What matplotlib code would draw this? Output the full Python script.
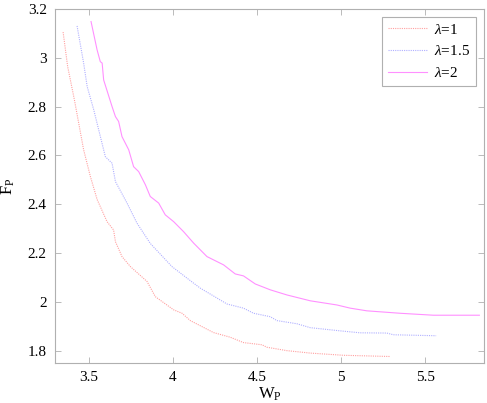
import numpy as np
import matplotlib
matplotlib.use("Agg")
from matplotlib import pyplot as plt

plt.rcParams['font.family'] = ['Liberation Serif', 'DejaVu Serif']
plt.rcParams['mathtext.fontset'] = 'custom'
plt.rcParams['mathtext.rm'] = 'Liberation Serif'
plt.rcParams['mathtext.it'] = 'Liberation Serif:italic'

# lambda = 1
w1 = [3.348, 3.375, 3.415, 3.470, 3.510, 3.550, 3.609, 3.648, 3.659, 3.698, 3.748,
      3.847, 3.896, 4.005, 4.055, 4.104, 4.242, 4.341, 4.420, 4.530, 4.559, 4.678,
      4.817, 5.014, 5.292]
f1 = [3.105, 2.964, 2.828, 2.623, 2.514, 2.420, 2.329, 2.295, 2.247, 2.186, 2.145,
      2.084, 2.022, 1.968, 1.954, 1.924, 1.875, 1.856, 1.834, 1.825, 1.815, 1.801,
      1.791, 1.782, 1.777]

# lambda = 1.5
w2 = [3.431, 3.470, 3.491, 3.530, 3.599, 3.639, 3.659, 3.728, 3.787, 3.866, 3.995,
      4.124, 4.163, 4.322, 4.420, 4.480, 4.579, 4.619, 4.738, 4.817, 4.995, 5.113,
      5.272, 5.311, 5.565]
f2 = [3.130, 2.978, 2.882, 2.787, 2.595, 2.568, 2.493, 2.405, 2.323, 2.240, 2.145,
      2.077, 2.057, 1.992, 1.975, 1.954, 1.940, 1.924, 1.911, 1.895, 1.882, 1.874,
      1.873, 1.866, 1.862]

# lambda = 2
w3 = [3.514, 3.550, 3.569, 3.580, 3.589, 3.639, 3.659, 3.678, 3.698, 3.738, 3.767,
      3.797, 3.837, 3.866, 3.916, 3.955, 4.005, 4.064, 4.124, 4.203, 4.302, 4.371,
      4.420, 4.490, 4.579, 4.678, 4.817, 4.975, 5.054, 5.153, 5.351, 5.549, 5.822]
f3 = [3.148, 3.032, 2.984, 2.978, 2.909, 2.800, 2.759, 2.739, 2.677, 2.623, 2.554,
      2.534, 2.480, 2.432, 2.405, 2.357, 2.329, 2.288, 2.241, 2.186, 2.152, 2.115,
      2.107, 2.074, 2.050, 2.029, 2.005, 1.988, 1.975, 1.964, 1.954, 1.946, 1.946]

labels = [r'$\lambda$=1', r'$\lambda$=1.5', r'$\lambda$=2']
xticks = [3.5, 4, 4.5, 5, 5.5]
yticks = [1.8, 2, 2.2, 2.4, 2.6, 2.8, 3, 3.2]

fig = plt.figure(figsize=(4.87, 4.03), dpi=100)
ax = fig.add_axes([0.113, 0.099, 0.881, 0.879])

ax.plot(w1, f1, color='#ffa0a0', linestyle=(0, (1, 1)), linewidth=0.8, label=labels[0])
ax.plot(w2, f2, color='#b0b0ff', linestyle=(0, (1, 1)), linewidth=0.8, label=labels[1])
ax.plot(w3, f3, color='#ff90ff', linestyle='-', linewidth=0.8, label=labels[2])

ax.set_xlim(3.3, 5.85)
ax.set_ylim(1.75, 3.2)
ax.set_xticks(xticks)
ax.set_xticklabels([f'{t:g}' for t in xticks])
ax.set_yticks(yticks)
ax.set_yticklabels([f'{t:g}' for t in yticks])
ax.tick_params(direction='in', length=4, width=0.6, color='#b0b0b0',
               top=True, right=True, labelsize=11, pad=6)
for s in ax.spines.values():
    s.set_color('#b0b0b0')
    s.set_linewidth(0.8)

ax.set_xlabel(r'W$_\mathrm{P}$', fontsize=12, labelpad=1)
ax.set_ylabel(r'F$_\mathrm{P}$', fontsize=12, labelpad=8)

leg = ax.legend(loc='upper right', fontsize=11, fancybox=False, framealpha=1,
                edgecolor='#b0b0b0', handlelength=2.5, handletextpad=0.5,
                borderaxespad=0.5, labelspacing=0.5)
leg.get_frame().set_linewidth(0.8)

fig.savefig('out.png', dpi=100)
